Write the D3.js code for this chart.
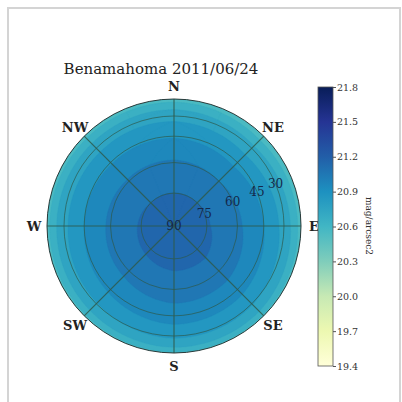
<!DOCTYPE html>
<head lang="en">
<meta charset="utf-8">
<title>Benamahoma sky brightness</title>
<style>
body { margin: 0; background: #fff; }
text { font-family: "DejaVu Serif", serif; }
</style>
<script src="https://cdn.jsdelivr.net/npm/d3@7/dist/d3.min.js"></script>
</head>
<body>
<script>
// Sky brightness (mag/arcsec2), by altitude (rows) and azimuth (cols)
var azimuths = [0, 45, 90, 135, 180, 225, 270, 315, 360];
var altitudes = [0, 15, 30, 45, 60, 75, 90];
var brightness = [
    [20.48, 20.44, 20.48, 20.52, 20.54, 20.52, 20.50, 20.48, 20.48],
    [20.62, 20.58, 20.62, 20.67, 20.68, 20.65, 20.63, 20.62, 20.62],
    [20.76, 20.73, 20.76, 20.81, 20.82, 20.79, 20.77, 20.76, 20.76],
    [20.89, 20.87, 20.90, 20.94, 20.95, 20.92, 20.90, 20.89, 20.89],
    [21.01, 21.00, 21.02, 21.05, 21.05, 21.03, 21.02, 21.01, 21.01],
    [21.10, 21.10, 21.11, 21.13, 21.13, 21.12, 21.11, 21.10, 21.10],
    [21.16, 21.16, 21.16, 21.16, 21.16, 21.16, 21.16, 21.16, 21.16]
];
var levels = [20.4, 20.5, 20.6, 20.7, 20.8, 20.9, 21.0, 21.1, 21.2];
var compassLabels = ["N", "NE", "E", "SE", "S", "SW", "W", "NW"];
var compassAz = [0, 45, 90, 135, 180, 225, 270, 315];
var altTicks = [30, 45, 60, 75, 90];
var gridAlts = [30, 45, 60, 75];
var cbTicks = [19.4, 19.7, 20.0, 20.3, 20.6, 20.9, 21.2, 21.5, 21.8];
var cbDomain = [19.4, 21.8];
// YlGnBu as a 9-stop ramp
var cmapStops = ["#ffffd9", "#edf8b1", "#c7e9b4", "#7fcdbb", "#41b6c4", "#1d91c0", "#225ea8", "#253494", "#081d58"];

var width = 402, height = 402;
var cx = 174, cy = 226, R = 127;
var rad = Math.PI / 180;

var svg = d3.select("body").append("svg")
    .attr("width", width)
    .attr("height", height);

// light frame
svg.append("rect")
    .attr("x", 8).attr("y", 8)
    .attr("width", 392).attr("height", 420)
    .attr("fill", "none")
    .attr("stroke", "#d4d4d4")
    .attr("stroke-width", 2);

var color = d3.scaleLinear()
    .domain(cmapStops.map(function(c, i) { return cbDomain[0] + i * (cbDomain[1] - cbDomain[0]) / (cmapStops.length - 1); }))
    .range(cmapStops)
    .interpolate(d3.interpolateRgb)
    .clamp(true);

// altitude -> radius (orthographic)
function rOf(alt) {
    if (alt < 0) return R * (1 - alt / 90);
    return R * Math.cos(Math.min(alt, 90) * rad);
}
function toXY(az, alt) {
    var r = rOf(alt);
    return [cx + r * Math.sin(az * rad), cy - r * Math.cos(az * rad)];
}

var n = azimuths.length, m = altitudes.length;
var flat = [];
brightness.forEach(function(row) { row.forEach(function(v) { flat.push(v); }); });

var azOfGrid = d3.scaleLinear().domain([0.5, n - 0.5]).range([azimuths[0], azimuths[n - 1]]);
var altOfGrid = d3.scaleLinear().domain([0.5, m - 0.5]).range([altitudes[0], altitudes[m - 1]]);

var contours = d3.contours().size([n, m]).thresholds(levels)(flat);

function ringPath(ring) {
    var pts = [];
    for (var k = 0; k < ring.length - 1; k++) {
        var p = ring[k], q = ring[k + 1];
        for (var s = 0; s < 16; s++) {
            var t = s / 16;
            var gx = p[0] + (q[0] - p[0]) * t, gy = p[1] + (q[1] - p[1]) * t;
            pts.push(toXY(azOfGrid(gx), altOfGrid(gy)));
        }
    }
    return d3.line()(pts) + "Z";
}

svg.append("clipPath").attr("id", "disk")
    .append("circle").attr("cx", cx).attr("cy", cy).attr("r", R);

var plot = svg.append("g").attr("clip-path", "url(#disk)");

plot.append("circle")
    .attr("cx", cx).attr("cy", cy).attr("r", R)
    .attr("fill", color(levels[0] - 0.05));

plot.selectAll("path.band")
    .data(contours)
    .enter()
    .append("path")
        .attr("class", "band")
        .attr("d", function(d) {
            return d.coordinates.map(function(poly) {
                return poly.map(ringPath).join("");
            }).join("");
        })
        .attr("fill", function(d) { return color(d.value + 0.05); })
        .attr("stroke", function(d) { return color(d.value + 0.05); })
        .attr("stroke-width", 0.3);

// grid
var gridColor = "#2e5a4c";
plot.selectAll("circle.grid")
    .data(gridAlts)
    .enter()
    .append("circle")
        .attr("class", "grid")
        .attr("cx", cx).attr("cy", cy)
        .attr("r", function(d) { return rOf(d); })
        .attr("fill", "none")
        .attr("stroke", gridColor)
        .attr("stroke-opacity", 0.7)
        .attr("stroke-width", 1);

plot.selectAll("line.spoke")
    .data(compassAz)
    .enter()
    .append("line")
        .attr("class", "spoke")
        .attr("x1", cx).attr("y1", cy)
        .attr("x2", function(d) { return toXY(d, 0)[0]; })
        .attr("y2", function(d) { return toXY(d, 0)[1]; })
        .attr("stroke", gridColor)
        .attr("stroke-opacity", 0.85)
        .attr("stroke-width", 1.2);

svg.append("circle")
    .attr("cx", cx).attr("cy", cy).attr("r", R)
    .attr("fill", "none")
    .attr("stroke", "#2b3a3a")
    .attr("stroke-width", 1);

// altitude labels along 22.5 deg above east
svg.selectAll("text.alt")
    .data(altTicks)
    .enter()
    .append("text")
        .attr("class", "alt")
        .attr("x", function(d) { return toXY(67.5, d)[0]; })
        .attr("y", function(d) { return toXY(67.5, d)[1]; })
        .attr("dy", "0.35em")
        .attr("text-anchor", "middle")
        .attr("font-size", 12)
        .attr("fill", "#14284a")
        .text(function(d) { return d; });

// compass labels
svg.selectAll("text.dir")
    .data(compassLabels)
    .enter()
    .append("text")
        .attr("class", "dir")
        .attr("x", function(d, i) { var p = toXY(compassAz[i], 0); return cx + (p[0] - cx) * 140 / R; })
        .attr("y", function(d, i) { var p = toXY(compassAz[i], 0); return cy + (p[1] - cy) * 140 / R; })
        .attr("dy", "0.35em")
        .attr("text-anchor", "middle")
        .attr("font-size", 13)
        .attr("font-weight", "bold")
        .attr("fill", "#222")
        .text(function(d) { return d; });

svg.append("text")
    .attr("x", 161).attr("y", 74)
    .attr("text-anchor", "middle")
    .attr("font-size", 15)
    .attr("fill", "#222")
    .text("Benamahoma 2011/06/24");

// colorbar
var cbX = 318, cbW = 15, cbTop = 87, cbBot = 366;
var cbScale = d3.scaleLinear().domain(cbDomain).range([cbBot, cbTop]);
var grad = svg.append("defs").append("linearGradient")
    .attr("id", "cbgrad")
    .attr("x1", 0).attr("y1", 1).attr("x2", 0).attr("y2", 0);
grad.selectAll("stop")
    .data(cmapStops)
    .enter()
    .append("stop")
        .attr("offset", function(d, i) { return i / (cmapStops.length - 1); })
        .attr("stop-color", function(d) { return d; });

svg.append("rect")
    .attr("x", cbX).attr("y", cbTop)
    .attr("width", cbW).attr("height", cbBot - cbTop)
    .attr("fill", "url(#cbgrad)")
    .attr("stroke", "#555")
    .attr("stroke-width", 0.8);

var cbAxis = d3.axisRight(cbScale)
    .tickValues(cbTicks)
    .tickFormat(d3.format(".1f"))
    .tickSize(3)
    .tickPadding(1);
var cbG = svg.append("g")
    .attr("transform", "translate(" + (cbX + cbW) + ",0)")
    .call(cbAxis);
cbG.select(".domain").remove();
cbG.selectAll("line").attr("stroke", "#555");
cbG.selectAll("text")
    .attr("font-family", "DejaVu Serif, serif")
    .attr("font-size", 9.5)
    .attr("fill", "#333");

svg.append("text")
    .attr("transform", "translate(366,226) rotate(90)")
    .attr("text-anchor", "middle")
    .attr("font-size", 9)
    .attr("fill", "#333")
    .text("mag/arcsec2");
</script>
</body>
</html>
